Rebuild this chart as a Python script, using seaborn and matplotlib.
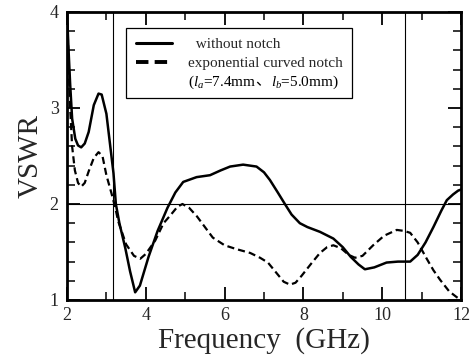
import matplotlib
matplotlib.use("Agg")
import matplotlib.pyplot as plt
import seaborn as sns
from matplotlib.lines import Line2D
from matplotlib.ticker import MultipleLocator
from matplotlib.offsetbox import TextArea, HPacker, AnnotationBbox

# ---- data ----
freq_without = [2.0, 2.04, 2.08, 2.13, 2.21, 2.28, 2.36, 2.45, 2.55, 2.68, 2.8, 2.88,
                3.0, 3.09, 3.18, 3.24, 3.33, 3.48, 3.6, 3.73, 3.85, 4.07, 4.3, 4.55,
                4.75, 4.95, 5.29, 5.63, 5.9, 6.14, 6.47, 6.81, 7.0, 7.15, 7.35, 7.53,
                7.7, 7.91, 8.1, 8.42, 8.76, 9.0, 9.2, 9.4, 9.56, 9.8, 10.11, 10.4,
                10.71, 10.9, 11.1, 11.3, 11.5, 11.64, 11.8, 11.93, 12.0]
vswr_without = [4.0, 3.6, 3.25, 2.89, 2.68, 2.61, 2.59, 2.63, 2.75, 3.03, 3.15, 3.14,
                2.94, 2.63, 2.32, 2.0, 1.8, 1.54, 1.3, 1.08, 1.15, 1.45, 1.72, 1.96,
                2.12, 2.23, 2.28, 2.30, 2.35, 2.39, 2.41, 2.39, 2.33, 2.25, 2.12, 2.0,
                1.89, 1.80, 1.76, 1.71, 1.64, 1.55, 1.45, 1.37, 1.32, 1.34, 1.39, 1.40,
                1.40, 1.47, 1.60, 1.76, 1.93, 2.04, 2.10, 2.14, 2.15]

freq_notch = [2.0, 2.04, 2.08, 2.13, 2.2, 2.28, 2.36, 2.45, 2.55, 2.68, 2.8, 2.9, 3.0,
              3.13, 3.22, 3.3, 3.5, 3.7, 3.86, 4.0, 4.24, 4.45, 4.62, 4.8, 4.93, 5.1,
              5.3, 5.5, 5.7, 6.0, 6.3, 6.65, 6.9, 7.1, 7.3, 7.5, 7.66, 7.8, 7.95, 8.2,
              8.42, 8.6, 8.76, 8.95, 9.15, 9.31, 9.5, 9.77, 10.05, 10.37, 10.55,
              10.71, 10.9, 11.13, 11.3, 11.47, 11.7, 11.89, 12.0]
vswr_notch = [4.0, 3.5, 3.0, 2.6, 2.35, 2.22, 2.18, 2.22, 2.34, 2.48, 2.54, 2.5, 2.3,
              2.11, 1.97, 1.82, 1.58, 1.46, 1.43, 1.48, 1.62, 1.80, 1.88, 1.97, 2.0,
              1.96, 1.87, 1.76, 1.65, 1.57, 1.53, 1.49, 1.44, 1.39, 1.29, 1.19, 1.16,
              1.18, 1.25, 1.38, 1.49, 1.55, 1.57, 1.54, 1.47, 1.44, 1.46, 1.57, 1.67,
              1.73, 1.72, 1.70, 1.60, 1.43, 1.31, 1.21, 1.09, 1.03, 1.0]

ref_freqs = [3.16, 10.57]
ref_vswr = [2.0]
series_labels = ["  without notch", "exponential curved notch"]
param_pieces = ["($l_a$=7.4mm", "、", "$l_b$=5.0mm)"]
x_ticks = [2, 4, 6, 8, 10, 12]
y_ticks = [1, 2, 3, 4]

# ---- style ----
sns.set_style("ticks")
plt.rcParams["font.family"] = ["Liberation Serif", "Noto Sans CJK JP"]
plt.rcParams["mathtext.fontset"] = "custom"
plt.rcParams["mathtext.rm"] = "Liberation Serif"
plt.rcParams["mathtext.it"] = "Liberation Serif:italic"

fig = plt.figure(figsize=(4.76, 3.6), dpi=100)
ax = fig.add_axes([67 / 476, 60 / 360, 394 / 476, 288 / 360])

dash_pat = (0, (3.2, 1.8))
sns.lineplot(x=freq_without, y=vswr_without, ax=ax, color="black", lw=1.8,
             sort=False, estimator=None, zorder=3)
sns.lineplot(x=freq_notch, y=vswr_notch, ax=ax, color="black", lw=1.6,
             linestyle=dash_pat, sort=False, estimator=None, zorder=3)

for f in ref_freqs:
    ax.axvline(f, color="black", lw=0.8, zorder=2)
for v in ref_vswr:
    ax.axhline(v, color="black", lw=0.8, zorder=2)

ax.set_xlim(2, 12)
ax.set_ylim(1, 4)
ax.set_xticks(x_ticks)
ax.set_yticks(y_ticks)
ax.xaxis.set_minor_locator(MultipleLocator(1))
ax.yaxis.set_minor_locator(MultipleLocator(0.2))
ax.tick_params(which="both", direction="in", top=True, right=True,
               labelsize=13, color="black")
ax.tick_params(which="major", length=9.5, width=1.3)
ax.tick_params(which="minor", length=5.8, width=1.1)
ax.tick_params(axis="x", pad=5)
ax.tick_params(axis="y", pad=6)
for s in ax.spines.values():
    s.set_linewidth(2)
    s.set_color("black")
ax.grid(False)

ax.set_xlabel("Frequency  (GHz)", fontsize=21, labelpad=2)
ax.set_ylabel("VSWR", fontsize=21, labelpad=4)

handles = [Line2D([], [], color="black", lw=2.2),
           Line2D([], [], color="black", lw=2.8, linestyle=(0, (3.2, 1.6))),
           Line2D([], [], color="none")]
leg = ax.legend(handles, series_labels + [" "], loc="upper left",
                bbox_to_anchor=(0.150, 0.944), borderaxespad=0, frameon=True,
                fancybox=False, edgecolor="black", framealpha=1, fontsize=11,
                handlelength=2.4, handletextpad=1.0, labelspacing=0.32,
                borderpad=0.62)
leg.get_frame().set_linewidth(0.9)
leg.set_zorder(5)

areas = [TextArea(p, textprops=dict(fontsize=11, color="black")) for p in param_pieces]
packer = HPacker(children=areas, align="baseline", pad=0, sep=0)
t3 = leg.get_texts()[2]
ab = AnnotationBbox(packer, xy=(0, 0.5), xycoords=t3, box_alignment=(0, 0.5),
                    frameon=False, pad=0, zorder=6)
ax.add_artist(ab)

fig.savefig("out.png", dpi=100)
